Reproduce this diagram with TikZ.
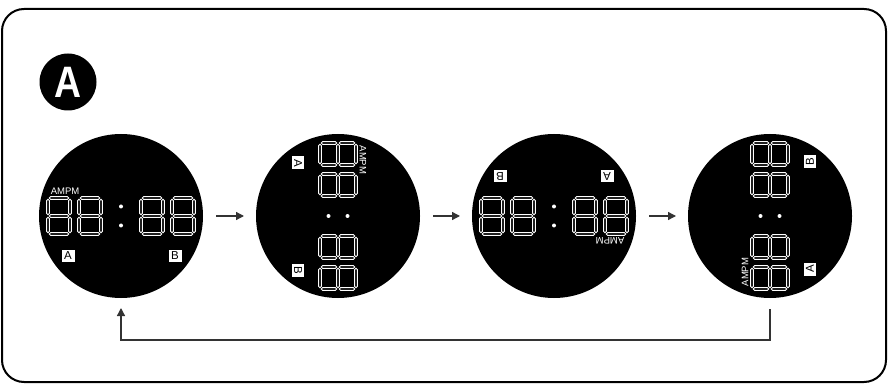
\documentclass[tikz,border=0pt]{standalone}
\usepackage{fontspec}
\newfontfamily\lsans{Liberation Sans}
\usetikzlibrary{arrows.meta,calc}
\newcommand\hsegat[3]{\draw[seg] (#1,#3) -- ({#1+1.4},{#3+1.4}) -- ({#2-1.4},{#3+1.4}) -- (#2,#3) -- ({#2-1.4},{#3-1.4}) -- ({#1+1.4},{#3-1.4}) -- cycle;}
\newcommand\vsegat[3]{\draw[seg] (#1,#2) -- ({#1+1.4},{#2+1.4}) -- ({#1+1.4},{#3-1.4}) -- (#1,#3) -- ({#1-1.4},{#3-1.4}) -- ({#1-1.4},{#2+1.4}) -- cycle;}
\newcommand\digitat[1]{%
  \hsegat{#1-9.8}{#1+9.8}{18}\hsegat{#1-9.8}{#1+9.8}{0}\hsegat{#1-9.8}{#1+9.8}{-18}%
  \vsegat{#1-11}{1.2}{16.8}\vsegat{#1+11}{1.2}{16.8}%
  \vsegat{#1-11}{-16.8}{-1.2}\vsegat{#1+11}{-16.8}{-1.2}}
\tikzset{
  seg/.style={draw=white,line width=0.85pt,fill=black},
  clockcircle/.style={circle,fill=black,minimum size=164pt,inner sep=0pt,outer sep=0pt},
  tagbox/.style={transform shape,fill=white,minimum width=13pt,minimum height=12pt,inner sep=0pt,font=\lsans\fontsize{11.5}{11.5}\selectfont},
  ampm/.style={transform shape,text=white,inner sep=0pt,font=\lsans\fontsize{9.5}{10}\selectfont},
  arr/.style={draw=black!80,line width=1.3pt,-{Triangle[length=8pt,width=8pt]}},
  clockface/.pic={
    \digitat{-62}\digitat{-31}\digitat{31}\digitat{62}
    \fill[white] (0,9.5) circle (2pt) (0,-9.5) circle (2pt);
    \node[ampm] (-ampm) at (-56,25) {AMPM};
    \node[tagbox] (-a) at (-53,-40) {A};
    \node[tagbox] (-b) at (54,-40) {B};
  }
}
\begin{document}
\begin{tikzpicture}[x=1pt,y=1pt]
\useasboundingbox (0,0) rectangle (888,-387);
\draw[line width=2pt,rounded corners=22pt] (2,-9) rectangle (886,-382);
\node[circle,fill=black,minimum size=57pt,inner sep=0pt] (badge) at (68,-82) {};
\node[text=white,font=\lsans\bfseries\fontsize{44}{44}\selectfont,xscale=0.85,inner sep=0pt] (badgetext) at (68,-82) {A};
\node[clockcircle] (c1) at (121,-216) {};
\node[clockcircle] (c2) at (338,-216) {};
\node[clockcircle] (c3) at (554,-216) {};
\node[clockcircle] (c4) at (770,-216) {};
\pic (f1) at (c1) {clockface};
\pic[rotate=-90] (f2) at (c2) {clockface};
\pic[rotate=180] (f3) at (c3) {clockface};
\pic[rotate=90] (f4) at (c4) {clockface};
\draw[arr] ($(c1.east)+(13,0)$) -- ($(c2.west)+(-12,0)$);
\draw[arr] ($(c2.east)+(13,0)$) -- ($(c3.west)+(-12,0)$);
\draw[arr] ($(c3.east)+(13,0)$) -- ($(c4.west)+(-12,0)$);
\draw[arr] ($(c4.south)+(0,-11)$) -- ++(0,-31) -| ($(c1.south)+(0,-10)$);
\end{tikzpicture}
\end{document}
